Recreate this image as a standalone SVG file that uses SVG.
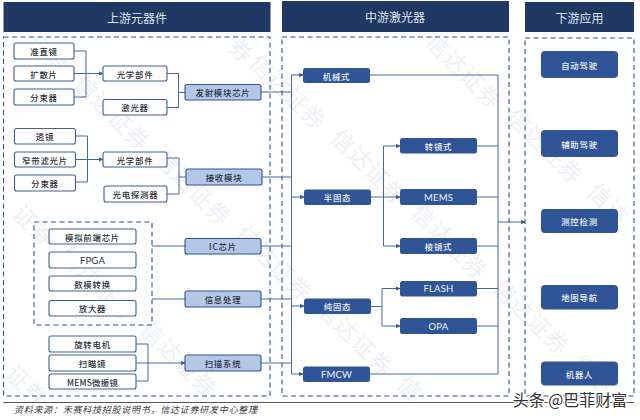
<svg xmlns="http://www.w3.org/2000/svg" width="640" height="420" viewBox="0 0 640 420">
<style>
text{font-family:"Noto Sans CJK SC","Noto Sans",sans-serif;text-anchor:middle;dominant-baseline:central}
.wm{font-size:23px;fill:#eef0f4;letter-spacing:1px}
.hd rect{fill:#1f3864}
.hd text{font-size:12px;fill:#dfe6f2}
.panel{fill:none;stroke:#2f5286;stroke-width:1.1;stroke-dasharray:5 3.5}
.w rect{fill:#fff;stroke:#3f6091;stroke-width:1.1}
.w text{font-size:8.4px;fill:#2b2f38;font-weight:500;letter-spacing:.8px}
.l rect{fill:#b4c7e7;stroke:#2f5597;stroke-width:1.1}
.l text{font-size:8.4px;fill:#26303f;font-weight:500;letter-spacing:.8px}
.m rect{fill:#2f5597}
.m text{font-size:8.4px;fill:#eef2f8;font-weight:500;letter-spacing:.8px}
.lat text{font-family:Lato,"Noto Sans",sans-serif;font-size:9.5px;letter-spacing:.2px;font-weight:400}
#connectors path{fill:none;stroke:#44689c;stroke-width:1}
.ar{marker-end:url(#a)}
</style>
<defs><marker id="a" viewBox="0 0 6 6" refX="5.5" refY="3" markerWidth="4.2" markerHeight="4.2" markerUnits="userSpaceOnUse" orient="auto"><path d="M0 0L6 3L0 6z" fill="#2f5597"/></marker></defs>
<rect width="640" height="420" fill="#fff"/>
<g id="watermark">
<text class="wm" transform="translate(465 70) rotate(45)">信达证券</text>
<text class="wm" transform="translate(546 145) rotate(45)">信达证券</text>
<text class="wm" transform="translate(610 203) rotate(45)">信达</text>
<text class="wm" transform="translate(370 166) rotate(45)">信达证券</text>
<text class="wm" transform="translate(451 241) rotate(45)">信达证券</text>
<text class="wm" transform="translate(532 316) rotate(45)">信达证券</text>
<text class="wm" transform="translate(596 374) rotate(45)">信达</text>
<text class="wm" transform="translate(289 91) rotate(45)">信达证券</text>
<text class="wm" transform="translate(242 50) rotate(45)">券</text>
<text class="wm" transform="translate(275 262) rotate(45)">信达证券</text>
<text class="wm" transform="translate(356 337) rotate(45)">信达证券</text>
<text class="wm" transform="translate(411 387) rotate(45)">信</text>
<text class="wm" transform="translate(194 187) rotate(45)">信达证券</text>
<text class="wm" transform="translate(113 112) rotate(45)">信达证券</text>
<text class="wm" transform="translate(49 54) rotate(45)">证券</text>
<text class="wm" transform="translate(180 358) rotate(45)">信达证券</text>
<text class="wm" transform="translate(99 283) rotate(45)">信达证券</text>
<text class="wm" transform="translate(35 225) rotate(45)">证券</text>
<text class="wm" transform="translate(28 385) rotate(45)">证券</text>
</g>
<g id="h1" class="hd"><rect x="3.5" y="2" width="267" height="30"/><text x="137" y="17">上游元器件</text></g>
<g id="h2" class="hd"><rect x="282" y="1" width="227" height="31"/><text x="395" y="16.5">中游激光器</text></g>
<g id="h3" class="hd"><rect x="525" y="2" width="109" height="30"/><text x="579.5" y="17">下游应用</text></g>
<rect class="panel" x="3.5" y="37" width="266.5" height="359"/>
<rect class="panel" x="282" y="37" width="227" height="359"/>
<rect class="panel" x="525" y="38" width="109" height="358"/>
<rect class="panel" x="34" y="222" width="118" height="103"/>
<g id="connectors">
<path d="M74 51H86V97H74"/><path class="ar" d="M74 73.5H103"/>
<path d="M167 73.5H178.5V107.5H167M178.5 92.5H185"/>
<path d="M75.5 136H87.5V182H75.5"/><path class="ar" d="M75.5 159.5H103"/>
<path d="M167 158H179V194H167M179 177H186"/>
<path d="M152 246H185M152 299H185"/>
<path d="M136 344H148V381H136"/><path class="ar" d="M136 363H185"/>
<path d="M261 92H291.5M262 177H291.5M261 246H291.5M261 299H291.5M261 363H291.5"/>
<path class="ar" d="M291.5 92V75H303"/>
<path class="ar" d="M291.5 92V197H304"/>
<path class="ar" d="M291.5 197V306H304"/>
<path class="ar" d="M291.5 306V374H303"/>
<path d="M371 197H383.5"/>
<path class="ar" d="M383.5 197H400"/>
<path class="ar" d="M383.5 197V146H400"/>
<path class="ar" d="M383.5 197V246H400"/>
<path d="M371 306.5H382"/>
<path class="ar" d="M382 306.5V288.5H400"/>
<path class="ar" d="M382 306.5V326H400"/>
<path d="M370 75H498V374H370M477 146H498M477 197H498M477 246H498M477 288.5H498M477 326H498"/>
<path class="ar" d="M498 222H525"/>
</g>
<g id="n1" class="w"><rect x="14" y="43" width="60" height="16" rx="2"/><text x="44" y="51">准直镜</text></g>
<g id="n2" class="w"><rect x="14" y="66" width="60" height="15" rx="2"/><text x="44" y="73.5">扩散片</text></g>
<g id="n3" class="w"><rect x="14" y="89" width="60" height="16" rx="2"/><text x="44" y="97">分束器</text></g>
<g id="n4" class="w"><rect x="103" y="66" width="64" height="15" rx="2"/><text x="135" y="73.5">光学部件</text></g>
<g id="n5" class="w"><rect x="103" y="99.5" width="64" height="15.5" rx="2"/><text x="135" y="107.3">激光器</text></g>
<g id="n6" class="l"><rect x="185" y="84.5" width="76" height="15.5" rx="2"/><text x="223" y="92.3">发射模块芯片</text></g>
<g id="n7" class="w"><rect x="14.5" y="128.5" width="61" height="15.5" rx="2"/><text x="45" y="136.3">透镜</text></g>
<g id="n8" class="w"><rect x="14.5" y="152" width="61" height="15" rx="2"/><text x="45" y="159.5">窄带滤光片</text></g>
<g id="n9" class="w"><rect x="14.5" y="175" width="61" height="16" rx="2"/><text x="45" y="183">分束器</text></g>
<g id="n10" class="w"><rect x="103" y="152" width="64" height="15" rx="2"/><text x="135" y="159.5">光学部件</text></g>
<g id="n11" class="w"><rect x="104" y="186" width="63" height="16" rx="2"/><text x="135.5" y="194">光电探测器</text></g>
<g id="n12" class="l"><rect x="186" y="169" width="76" height="16" rx="2"/><text x="224" y="177">接收模块</text></g>
<g id="n13" class="w"><rect x="49" y="229" width="87" height="15" rx="2"/><text x="92.5" y="236.5">模拟前端芯片</text></g>
<g id="n14" class="w lat"><rect x="49" y="252" width="87" height="16" rx="2"/><text x="92.5" y="260">FPGA</text></g>
<g id="n15" class="w"><rect x="49" y="276" width="87" height="15" rx="2"/><text x="92.5" y="283.5">数模转换</text></g>
<g id="n16" class="w"><rect x="49" y="300.5" width="87" height="15.5" rx="2"/><text x="92.5" y="308.3">放大器</text></g>
<g id="n17" class="l"><rect x="185" y="238.5" width="76" height="15.5" rx="2"/><text x="223" y="246.3">IC芯片</text></g>
<g id="n18" class="l"><rect x="185" y="291" width="76" height="16" rx="2"/><text x="223" y="299">信息处理</text></g>
<g id="n19" class="l"><rect x="185" y="355" width="76" height="16" rx="2"/><text x="223" y="363">扫描系统</text></g>
<g id="n20" class="w"><rect x="49" y="336" width="87" height="16" rx="2"/><text x="92.5" y="344">旋转电机</text></g>
<g id="n21" class="w"><rect x="49" y="355" width="87" height="16" rx="2"/><text x="92.5" y="363">扫瞄镜</text></g>
<g id="n22" class="w"><rect x="49" y="374" width="87" height="15" rx="2"/><text x="92.5" y="381.5" style="letter-spacing:.3px">MEMS微振镜</text></g>
<g id="n23" class="m"><rect x="303" y="68" width="67" height="15" rx="2.5"/><text x="336.5" y="75.5">机械式</text></g>
<g id="n24" class="m"><rect x="304" y="189.5" width="67" height="15.5" rx="2.5"/><text x="337.5" y="197.3">半固态</text></g>
<g id="n25" class="m"><rect x="400" y="138" width="77" height="15.5" rx="2.5"/><text x="438.5" y="145.8">转镜式</text></g>
<g id="n26" class="m lat"><rect x="400" y="189" width="77" height="16" rx="2.5"/><text x="438.5" y="197">MEMS</text></g>
<g id="n27" class="m"><rect x="400" y="238" width="77" height="16" rx="2.5"/><text x="438.5" y="246">棱镜式</text></g>
<g id="n28" class="m lat"><rect x="400" y="281" width="77" height="15.5" rx="2.5"/><text x="438.5" y="288.8">FLASH</text></g>
<g id="n29" class="m lat"><rect x="400" y="318" width="77" height="16" rx="2.5"/><text x="438.5" y="326">OPA</text></g>
<g id="n30" class="m"><rect x="304" y="298.5" width="67" height="15.5" rx="2.5"/><text x="337.5" y="306.3">纯固态</text></g>
<g id="n31" class="m lat"><rect x="303" y="366.5" width="67" height="15.5" rx="2.5"/><text x="336.5" y="374.3">FMCW</text></g>
<g id="n32" class="m"><rect x="541" y="51" width="77" height="27" rx="4"/><text x="579.5" y="64.5">自动驾驶</text></g>
<g id="n33" class="m"><rect x="541" y="130" width="77" height="27" rx="4"/><text x="579.5" y="143.5">辅助驾驶</text></g>
<g id="n34" class="m"><rect x="541" y="209" width="77" height="24" rx="4"/><text x="579.5" y="221">测控检测</text></g>
<g id="n35" class="m"><rect x="541" y="285" width="77" height="24.5" rx="4"/><text x="579.5" y="297.3">地图导航</text></g>
<g id="n36" class="m"><rect x="541" y="361.5" width="77" height="24" rx="4"/><text x="579.5" y="373.5">机器人</text></g>
<path d="M3 402.5H634" stroke="#555" stroke-width="1" fill="none"/>
<text x="136" y="409.5" style="font-size:9px;font-style:italic;letter-spacing:.75px;fill:#3a3a3a">资料来源&#xFF1A;禾赛科技招股说明书&#xFF0C;信达证券研发中心整理</text>
<text x="570" y="399" style="font-size:16px;fill:#333;stroke:#fff;stroke-width:2.5px;paint-order:stroke">头条 @巴菲财富</text>
</svg>
